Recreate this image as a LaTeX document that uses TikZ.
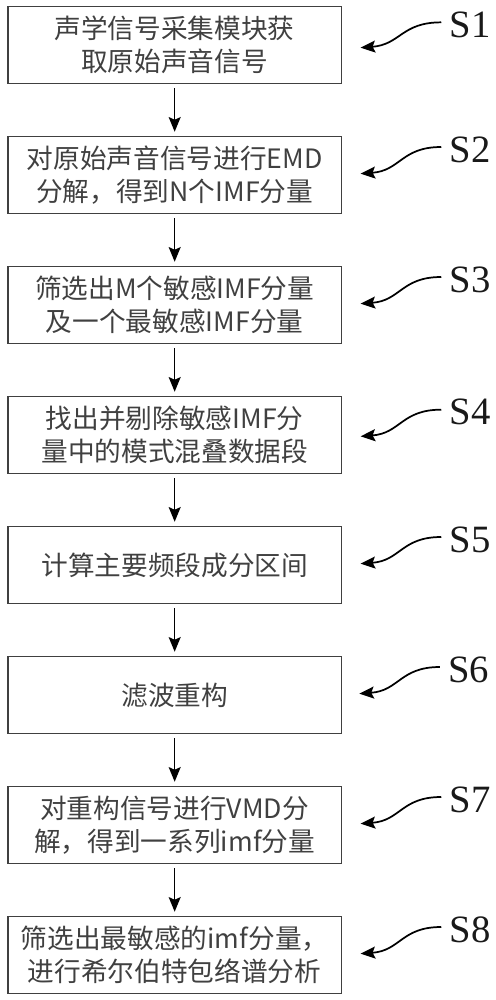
\documentclass[tikz,border=0pt]{standalone}
\usepackage{fontspec}
\setmainfont{Liberation Serif}
\newfontfamily\cjk{Noto Sans CJK SC}
\usetikzlibrary{arrows.meta, positioning}

\begin{document}
\begin{tikzpicture}[>={Stealth[length=11pt,width=9pt,inset=2pt]},shorten >=3pt,node distance=97.5pt,
  stepbox/.style={draw=black!75, line width=0.9pt, minimum width=250pt, minimum height=58pt,
    align=center, text=black!75, font=\cjk\fontsize{20pt}{24.5pt}\selectfont},
  steplabel/.style={text=black!90, inner sep=6pt, font=\fontsize{29pt}{30pt}\selectfont},
  wiggle/.style={->, line width=1.3pt, shorten >=0pt}]

\useasboundingbox (0,0) rectangle (372pt,-750pt);

% define the steps of the method
  \node[stepbox]   (s1)   at (131pt,-33.75pt)
{声学信号采集模块获\\取原始声音信号};
  \node[stepbox]   (s2)   [below of=s1]
{对原始声音信号进行EMD\\分解，得到N个IMF分量};
  \node[stepbox]   (s3)   [below of=s2]
{筛选出M个敏感IMF分量\\及一个最敏感IMF分量};
  \node[stepbox]   (s4)   [below of=s3]
{找出并剔除敏感IMF分\\量中的模式混叠数据段};
  \node[stepbox]   (s5)   [below of=s4]
{计算主要频段成分区间};
  \node[stepbox]   (s6)   [below of=s5]
{滤波重构};
  \node[stepbox]   (s7)   [below of=s6]
{对重构信号进行VMD分\\解，得到一系列imf分量};
  \node[stepbox]   (s8)   [below of=s7]
{筛选出最敏感的imf分量，\\进行希尔伯特包络谱分析};

% the step labels on the right
  \node[steplabel] (l1) at ([xshift=96pt,yshift=15pt]s1.east) {S1};
  \node[steplabel] (l2) at ([xshift=96pt,yshift=19pt]s2.east) {S2};
  \node[steplabel] (l3) at ([xshift=96pt,yshift=19pt]s3.east) {S3};
  \node[steplabel] (l4) at ([xshift=96pt,yshift=17pt]s4.east) {S4};
  \node[steplabel] (l5) at ([xshift=96pt,yshift=19pt]s5.east) {S5};
  \node[steplabel] (l6) at ([xshift=95pt,yshift=19pt]s6.east) {S6};
  \node[steplabel] (l7) at ([xshift=96pt,yshift=19pt]s7.east) {S7};
  \node[steplabel] (l8) at ([xshift=96pt,yshift=19pt]s8.east) {S8};

% define the links
  \path[->, line width=1pt, shorten <=3pt]
        (s1) edge (s2)
        (s2) edge (s3)
        (s3) edge (s4)
        (s4) edge (s5)
        (s5) edge (s6)
        (s6) edge (s7)
        (s7) edge (s8);

% curly pointers from the labels
  \draw[wiggle] ([yshift=2pt]l1.west) .. controls +(-30pt,0pt) and +(30pt,2.25pt) .. ([xshift=14pt,yshift=-2pt]s1.east);
  \draw[wiggle] ([yshift=2pt]l2.west) .. controls +(-30pt,0pt) and +(30pt,2.25pt) .. ([xshift=14pt,yshift=1pt]s2.east);
  \draw[wiggle] ([yshift=2pt]l3.west) .. controls +(-30pt,0pt) and +(30pt,2.25pt) .. ([xshift=14pt,yshift=1pt]s3.east);
  \draw[wiggle] ([yshift=2pt]l4.west) .. controls +(-30pt,0pt) and +(30pt,2.25pt) .. ([xshift=14pt,yshift=-1pt]s4.east);
  \draw[wiggle] ([yshift=2pt]l5.west) .. controls +(-30pt,0pt) and +(30pt,2.25pt) .. ([xshift=14pt,yshift=1pt]s5.east);
  \draw[wiggle] ([yshift=2pt]l6.west) .. controls +(-30pt,0pt) and +(30pt,2.25pt) .. ([xshift=13pt,yshift=1pt]s6.east);
  \draw[wiggle] ([yshift=2pt]l7.west) .. controls +(-30pt,0pt) and +(30pt,2.25pt) .. ([xshift=14pt,yshift=1pt]s7.east);
  \draw[wiggle] ([yshift=2pt]l8.west) .. controls +(-30pt,0pt) and +(30pt,2.25pt) .. ([xshift=14pt,yshift=1pt]s8.east);

\end{tikzpicture}
\end{document}
